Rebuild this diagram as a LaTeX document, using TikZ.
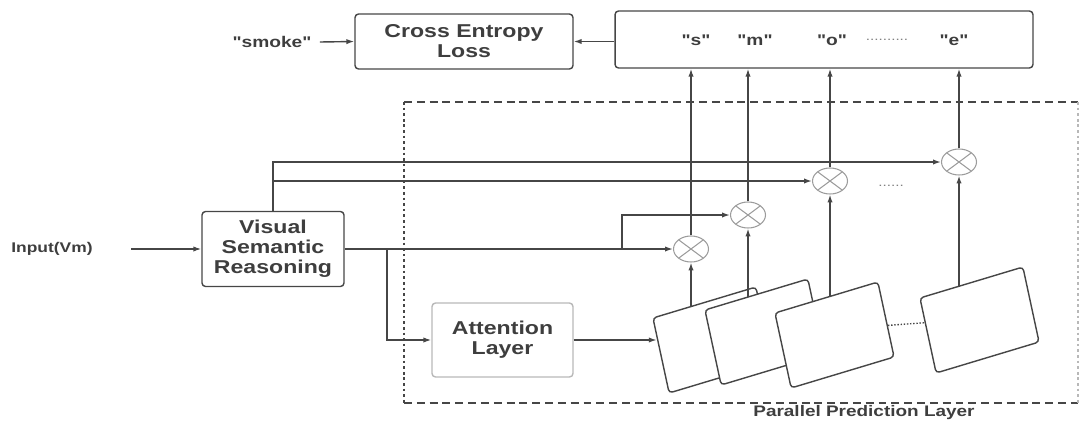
\documentclass[tikz,border=0pt]{standalone}
\usepackage{fontspec}
\setmainfont{Liberation Sans}[FakeStretch=1.24,Ligatures=TeXOff]
\usetikzlibrary{calc,arrows.meta,shapes.geometric}
\definecolor{ink}{HTML}{464646}
\definecolor{ring}{HTML}{9C9C9C}
\definecolor{txt}{HTML}{3E3E3E}
\definecolor{faint}{HTML}{B8B8B8}

\begin{document}
\begin{tikzpicture}[x=0.02cm,y=-0.02cm,>={Latex[length=4.5pt,width=3pt]},
  color=ink,line width=0.8pt,
  box/.style={draw=ink,rounded corners=2pt,inner sep=0pt,align=center,text=txt,
    font=\fontsize{10.6}{11.4}\selectfont\bfseries},
  lbl/.style={text=txt,inner sep=1pt,font=\fontsize{8.8}{10}\selectfont\bfseries},
  mult/.style={ellipse,draw=ring,line width=0.6pt,minimum width=0.7cm,
    minimum height=0.52cm,inner sep=0pt,
    path picture={\draw[ring,line width=0.6pt]
      (path picture bounding box.north west) -- (path picture bounding box.south east)
      (path picture bounding box.north east) -- (path picture bounding box.south west);}},
  card/.style={draw=ink,fill=white,rounded corners=2pt,inner sep=0pt,
    minimum width=2.15cm,minimum height=1.53cm,rotate=16.75,xslant=0.08}]
  \useasboundingbox (0,0) rectangle (1081,423);
  % parallel prediction frame
  \draw[dash pattern=on 4.5pt off 2.8pt] (404,102) -- (1078,102) (404,403) -- (1078,403);
  \draw[dash pattern=on 1.5pt off 1.7pt] (404,102) -- (404,403);
  \draw[faint,dash pattern=on 1.5pt off 1.7pt] (1078,102) -- (1078,403);
  \node[lbl,font=\fontsize{8.7}{10}\selectfont\bfseries] (plabel) at (864,413) {Parallel Prediction Layer};
  % loss and predicted string
  \node[box,minimum width=4.36cm,minimum height=1.1cm] (loss) at (464,41.5) {Cross Entropy\\Loss};
  \node[lbl] (gt) at (272,42) {"smoke"};
  \node[box,minimum width=8.36cm,minimum height=1.14cm] (out) at (824,39.5) {};
  \node[lbl] (o1) at (696,40) {"s"};
  \node[lbl] (o2) at (755,40) {"m"};
  \node[lbl] (o3) at (832,40) {"o"};
  \node[text=gray,font=\fontsize{7}{8}\selectfont] (odots) at (887,40) {..........};
  \node[lbl] (o4) at (954,40) {"e"};
  % encoder side
  \node[lbl,font=\fontsize{8}{9}\selectfont\bfseries] (vin) at (52,249) {Input(Vm)};
  \coordinate (vinEnd) at (131,249);
  \node[box,minimum width=2.84cm,minimum height=1.5cm] (vsr) at (273,249) {Visual\\Semantic\\Reasoning};
  \node[box,draw=faint,minimum width=2.82cm,minimum height=1.48cm] (att) at (502.5,340) {Attention\\Layer};
  % multipliers
  \node[mult] (c1) at (691,249) {};
  \node[mult] (c2) at (748,215) {};
  \node[mult] (c3) at (830,181) {};
  \node[mult] (c4) at (959,162) {};
  \node[text=gray,font=\fontsize{7}{8}\selectfont] (gap) at (891,186) {......};
  % glimpse cards
  \node[card] (p1) at (712.5,340) {};
  \node[card] (p2) at (764.5,332) {};
  \node[card] (p3) at (834.5,335) {};
  \node[card] (p4) at (979.5,320) {};
  \coordinate (a1) at ($(p1.north west)!0.28!(p1.south west)$);
  \coordinate (d3) at ($(p3.north east)!0.58!(p3.south east)$);
  \coordinate (d4) at ($(p4.north west)!0.33!(p4.south west)$);
  \draw[densely dotted] (d3) -- (d4);
  % connections
  \draw[->] (gt.east) ++(6,0) -- (loss.west);
  \draw[->] (out.west |- loss.east) -- (loss.east);
  \draw[->] (vinEnd) -- (vsr.west);
  \draw[->] (vsr.north) |- (c4.west);
  \draw[->] (vsr.north |- c3.west) -- (c3.west);
  \draw[->] (vsr.east) -- (c1.west);
  \coordinate (s1) at (387,249);
  \coordinate (s2) at (622,249);
  \draw[->] (s1) |- (att.west);
  \draw[->] (s2) |- (c2.west);
  \draw[->] (att.east) -- (att.east -| a1);
  \foreach \i/\t in {1/0.37,2/0.41,3/0.53,4/0.37}{
    \coordinate (t\i) at ($(p\i.north west)!\t!(p\i.north east)$);
    \draw[->] (c\i |- t\i) -- (c\i.south);
    \draw[->] (c\i.north) -- (c\i.north |- out.south);
  }
\end{tikzpicture}
\end{document}
